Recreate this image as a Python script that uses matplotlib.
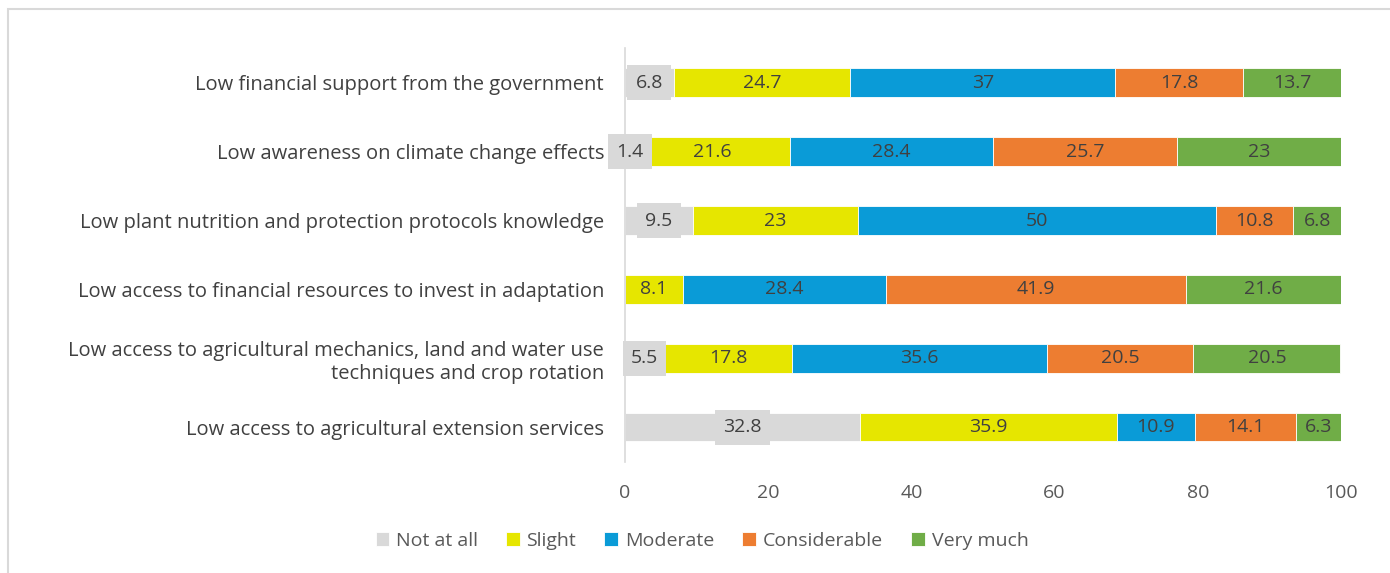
import matplotlib.pyplot as plt
import numpy as np
from matplotlib.patches import Rectangle

plt.rcParams['font.family'] = ['Open Sans', 'DejaVu Sans']

# data, bottom category first
categories = [
    "Low access to agricultural extension services",
    "Low access to agricultural mechanics, land and water use\ntechniques and crop rotation",
    "Low access to financial resources to invest in adaptation",
    "Low plant nutrition and protection protocols knowledge",
    "Low awareness on climate change effects",
    "Low financial support from the government",
]
levels = ["Not at all", "Slight", "Moderate", "Considerable", "Very much"]
not_at_all = [32.8, 5.5, 0, 9.5, 1.4, 6.8]
slight = [35.9, 17.8, 8.1, 23, 21.6, 24.7]
moderate = [10.9, 35.6, 28.4, 50, 28.4, 37]
considerable = [14.1, 20.5, 41.9, 10.8, 25.7, 17.8]
very_much = [6.3, 20.5, 21.6, 6.8, 23, 13.7]
colors = ["#D9D9D9", "#E6E600", "#0A9BD7", "#ED7D31", "#70AD47"]

series = [not_at_all, slight, moderate, considerable, very_much]

fig = plt.figure(figsize=(13.9, 5.73), dpi=100)
ax = fig.add_axes([0.4496, 0.194, 0.5151, 0.722])

fs = 14
y = np.arange(len(categories))
left = np.zeros(len(categories))
txt = "#404040"
for k, (vals, col, name) in enumerate(zip(series, colors, levels)):
    vals = np.array(vals, dtype=float)
    ax.barh(y, vals, left=left, height=0.41, color=col, edgecolor="white",
            linewidth=0.6, label=name)
    for i, v in enumerate(vals):
        if v <= 0:
            continue
        cx = left[i] + v / 2
        lab = f"{v:g}"
        if k == 0:
            ax.text(cx, y[i], lab, ha="center", va="center", fontsize=fs, color=txt,
                    bbox=dict(boxstyle="square,pad=0.42", fc="#D9D9D9", ec="none"))
        else:
            ax.text(cx, y[i], lab, ha="center", va="center", fontsize=fs, color=txt)
    left += vals

ax.set_xlim(0, 100)
ax.set_ylim(-0.5, len(categories) - 0.5)
ax.set_xticks([0, 20, 40, 60, 80, 100])
ax.set_yticks(y)
ax.set_yticklabels(categories, fontsize=14.5, color=txt)
ax.tick_params(axis="x", length=0, pad=16, labelsize=fs, labelcolor="#595959")
ax.tick_params(axis="y", length=0, pad=15)
for s in ["top", "right", "bottom"]:
    ax.spines[s].set_visible(False)
ax.spines["left"].set_color("#D9D9D9")
ax.spines["left"].set_linewidth(1.2)

fig.legend(loc="center", bbox_to_anchor=(0.505, 0.056), ncol=5, frameon=False,
           fontsize=fs, handlelength=0.7, handleheight=0.7, handletextpad=0.35,
           columnspacing=1.45, labelcolor="#595959")

fig.patches.append(Rectangle((8 / 1390, -0.1), 1.2, 1 - 9 / 573 + 0.1,
                             transform=fig.transFigure, fill=False,
                             ec="#D9D9D9", lw=1.5))

fig.savefig("out.png", dpi=100)
